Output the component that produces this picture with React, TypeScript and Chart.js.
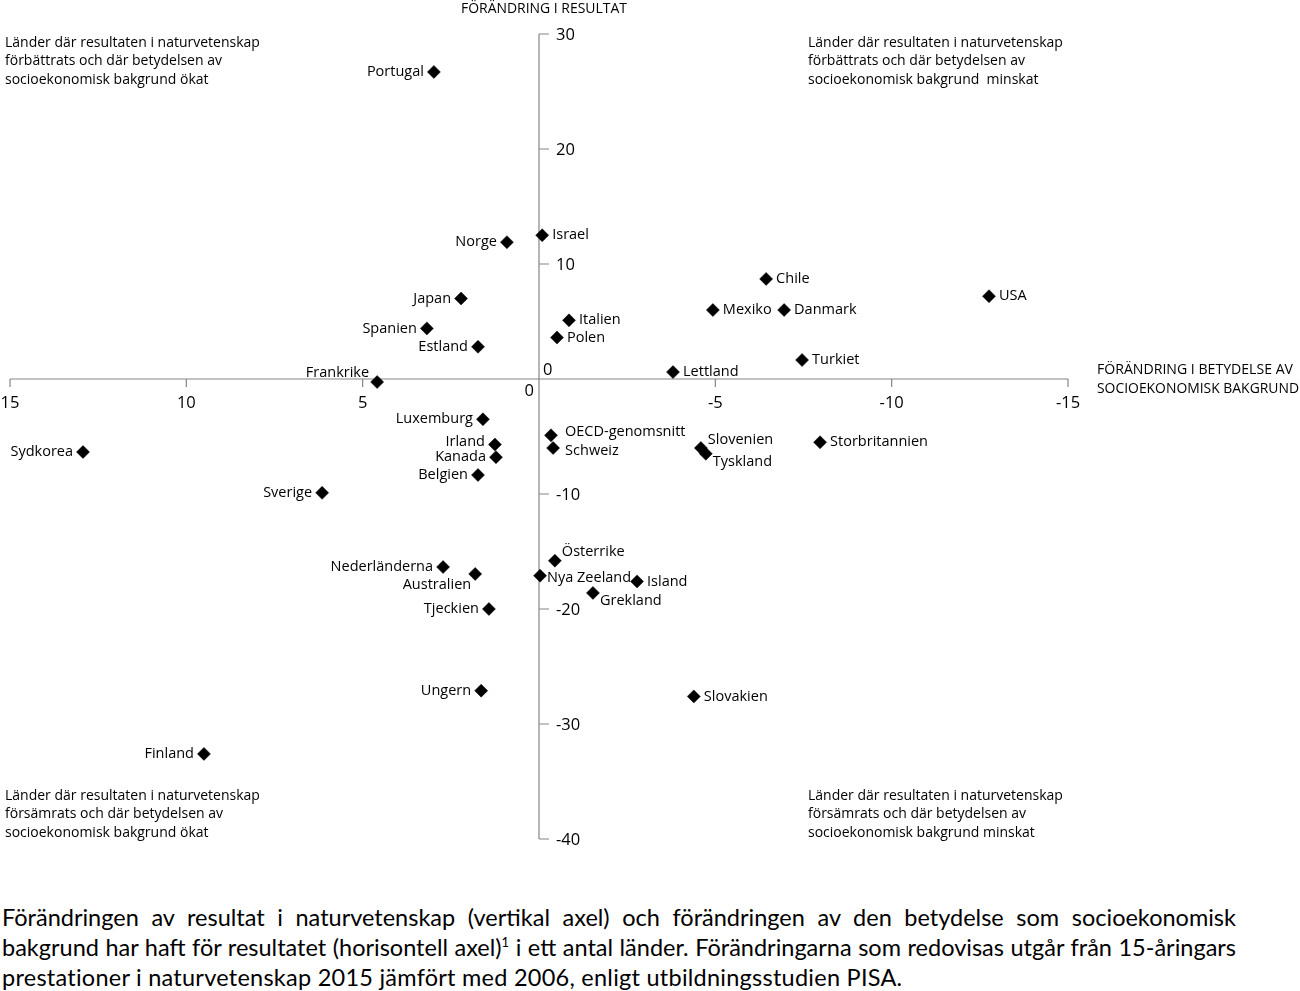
import React, { useEffect, useRef } from "react";
import { Chart, registerables } from "chart.js";

Chart.register(...registerables);

const countries = [
  "Portugal", "Israel", "Norge", "Chile", "USA", "Japan", "Mexiko", "Danmark",
  "Italien", "Spanien", "Polen", "Estland", "Turkiet", "Lettland", "Frankrike",
  "Luxemburg", "OECD-genomsnitt", "Storbritannien", "Irland", "Slovenien", "Schweiz",
  "Sydkorea", "Tyskland", "Kanada", "Belgien", "Sverige", "Österrike", "Nederländerna",
  "Australien", "Nya Zeeland", "Island", "Grekland", "Tjeckien", "Ungern", "Slovakien", "Finland",
];

// Change in the importance of socio-economic background (horizontal axis)
const sesChange = [
  2.98, -0.09, 0.91, -6.44, -12.76, 2.21, -4.93, -6.95,
  -0.85, 3.18, -0.51, 1.73, -7.46, -3.8, 4.59,
  1.59, -0.34, -7.97, 1.25, -4.59, -0.4,
  12.93, -4.73, 1.22, 1.73, 6.15, -0.45, 2.72,
  1.81, -0.03, -2.78, -1.53, 1.42, 1.64, -4.39, 9.5,
];

// Change in science results (vertical axis)
const scoreChange = [
  26.7, 12.5, 11.9, 8.7, 7.2, 7.0, 6.0, 6.0,
  5.1, 4.4, 3.6, 2.8, 1.65, 0.6, -0.26,
  -3.5, -4.9, -5.5, -5.7, -6.0, -6.0,
  -6.35, -6.5, -6.8, -8.35, -9.9, -15.8, -16.35,
  -16.95, -17.1, -17.6, -18.6, -20.0, -27.1, -27.6, -32.6,
];

// Where each country label sits relative to its marker
const labelPlacement = [
  "l", "r", "l", "r", "r", "l", "r", "r",
  "r", "l", "r", "l", "r", "r", "ul",
  "l", "ru", "r", "lu", "ur", "rd",
  "l", "dr", "l", "l", "l", "ur", "l",
  "dl", "rn", "r", "dr", "l", "l", "r", "l",
];

const xTickValues = [15, 10, 5, 0, -5, -10, -15];
const yTickValues = [30, 20, 10, 0, -10, -20, -30, -40];

const yAxisTitle = "FÖRÄNDRING I RESULTAT";
const xAxisTitle = ["FÖRÄNDRING I BETYDELSE AV", "SOCIOEKONOMISK BAKGRUND"];

const quadrantTopLeft = [
  "Länder där resultaten i naturvetenskap",
  "förbättrats och där betydelsen av",
  "socioekonomisk bakgrund ökat",
];
const quadrantTopRight = [
  "Länder där resultaten i naturvetenskap",
  "förbättrats och där betydelsen av",
  "socioekonomisk bakgrund  minskat",
];
const quadrantBottomLeft = [
  "Länder där resultaten i naturvetenskap",
  "försämrats och där betydelsen av",
  "socioekonomisk bakgrund ökat",
];
const quadrantBottomRight = [
  "Länder där resultaten i naturvetenskap",
  "försämrats och där betydelsen av",
  "socioekonomisk bakgrund minskat",
];

const FONT = "'Open Sans', Lato, sans-serif";
const CAPTION_FONT = "Lato, 'Open Sans', sans-serif";
const TEXT = "#000000";
const AXIS = "#858585";

const crossAxesPlugin = {
  id: "crossAxes",
  beforeDatasetsDraw(chart: any) {
    const { ctx } = chart;
    const x = chart.scales.x;
    const y = chart.scales.y;
    const x0 = x.getPixelForValue(0);
    const y0 = y.getPixelForValue(0);
    ctx.save();
    ctx.strokeStyle = AXIS;
    ctx.lineWidth = 1.2;
    ctx.beginPath();
    ctx.moveTo(x.left, y0);
    ctx.lineTo(x.right, y0);
    ctx.moveTo(x0, y.top);
    ctx.lineTo(x0, y.bottom);
    xTickValues.forEach((v) => {
      if (v === 0) return;
      const px = x.getPixelForValue(v);
      ctx.moveTo(px, y0);
      ctx.lineTo(px, y0 + 8);
    });
    yTickValues.forEach((v) => {
      if (v === 0) return;
      const py = y.getPixelForValue(v);
      ctx.moveTo(x0, py);
      ctx.lineTo(x0 + 10, py);
    });
    ctx.stroke();

    ctx.fillStyle = TEXT;
    ctx.font = `16.5px ${FONT}`;
    ctx.textBaseline = "middle";
    ctx.textAlign = "center";
    xTickValues.forEach((v) => {
      if (v === 0) return;
      ctx.fillText(String(v), x.getPixelForValue(v), y0 + 24);
    });
    ctx.textAlign = "right";
    ctx.fillText("0", x0 - 5, y0 + 12);
    ctx.textAlign = "left";
    yTickValues.forEach((v) => {
      if (v === 0) return;
      ctx.fillText(String(v), x0 + 17, y.getPixelForValue(v) + 1);
    });
    ctx.fillText("0", x0 + 4, y0 - 9);

    // axis titles
    ctx.font = `14.5px ${FONT}`;
    ctx.textAlign = "center";
    ctx.fillText(yAxisTitle, x0 + 5, 9, 166);
    ctx.textAlign = "left";
    ctx.fillText(xAxisTitle[0], x.right + 29, y0 - 9, 196);
    ctx.fillText(xAxisTitle[1], x.right + 29, y0 + 10, 202);

    // quadrant descriptions
    ctx.font = `14px ${FONT}`;
    const drawBlock = (lines: string[], left: number, top: number) => {
      lines.forEach((t, i) => ctx.fillText(t, left, top + i * 18.5));
    };
    drawBlock(quadrantTopLeft, 5, 43);
    drawBlock(quadrantTopRight, 808, 43);
    drawBlock(quadrantBottomLeft, 5, 796);
    drawBlock(quadrantBottomRight, 808, 796);
    ctx.restore();
  },
  afterDatasetsDraw(chart: any) {
    const { ctx } = chart;
    const meta = chart.getDatasetMeta(0);
    ctx.save();
    ctx.fillStyle = TEXT;
    ctx.font = `14.5px ${FONT}`;
    ctx.textBaseline = "middle";
    meta.data.forEach((pt: any, i: number) => {
      const p = labelPlacement[i];
      let dx = 10;
      let dy = 0;
      let align: CanvasTextAlign = "left";
      if (p === "l") { dx = -10; align = "right"; }
      else if (p === "lu") { dx = -10; dy = -3; align = "right"; }
      else if (p === "ul") { dx = -8; dy = -9; align = "right"; }
      else if (p === "dl") { dx = -4; dy = 11; align = "right"; }
      else if (p === "ur") { dx = 7; dy = -8.5; }
      else if (p === "dr") { dx = 7; dy = 8; }
      else if (p === "ru") { dx = 14; dy = -3; }
      else if (p === "rd") { dx = 12; dy = 3; }
      else if (p === "rn") { dx = 7; dy = 2; }
      ctx.textAlign = align;
      ctx.fillText(countries[i], pt.x + dx, pt.y + dy);
    });
    ctx.restore();
  },
};

export default function App() {
  const canvasRef = useRef<HTMLCanvasElement | null>(null);

  useEffect(() => {
    if (!canvasRef.current) return;
    const chart = new Chart(canvasRef.current, {
      type: "scatter",
      data: {
        datasets: [
          {
            label: "Länder",
            data: countries.map((_, i) => ({ x: sesChange[i], y: scoreChange[i] })),
            pointStyle: "rectRot",
            pointRadius: 6.5,
            pointBackgroundColor: "#000000",
            pointBorderColor: "#000000",
            pointBorderWidth: 0.5,
          },
        ],
      },
      options: {
        animation: false,
        responsive: false,
        devicePixelRatio: 1,
        layout: { padding: { left: 10, right: 232, top: 34, bottom: 41 } },
        plugins: { legend: { display: false }, tooltip: { enabled: false } },
        scales: {
          x: { type: "linear", min: -15, max: 15, reverse: true, display: false },
          y: { type: "linear", min: -40, max: 30, display: false },
        },
      },
      plugins: [crossAxesPlugin],
    });
    return () => chart.destroy();
  }, []);

  const captionLine: React.CSSProperties = {
    textAlign: "justify",
    textAlignLast: "justify",
    whiteSpace: "nowrap",
    height: 30,
  };

  return (
    <div style={{ position: "absolute", left: 0, top: 0, width: 1300, height: 991, background: "#fff" }}>
      <canvas ref={canvasRef} width={1300} height={880} style={{ display: "block", width: 1300, height: 880 }} />
      <div
        style={{
          position: "absolute",
          left: 2,
          top: 902,
          width: 1234,
          fontFamily: CAPTION_FONT,
          fontSize: 23.5,
          lineHeight: "30px",
          color: TEXT,
        }}
      >
        <div style={captionLine}>
          Förändringen av resultat i naturvetenskap (vertikal axel) och förändringen av den betydelse som socioekonomisk
        </div>
        <div style={captionLine}>
          bakgrund har haft för resultatet (horisontell axel)
          <sup style={{ fontSize: 13, lineHeight: 0 }}>1</sup> i ett antal länder. Förändringarna som redovisas utgår från 15-åringars
        </div>
        <div style={{ height: 30, whiteSpace: "nowrap", letterSpacing: "0.25px" }}>
          prestationer i naturvetenskap 2015 jämfört med 2006, enligt utbildningsstudien PISA.
        </div>
      </div>
    </div>
  );
}
